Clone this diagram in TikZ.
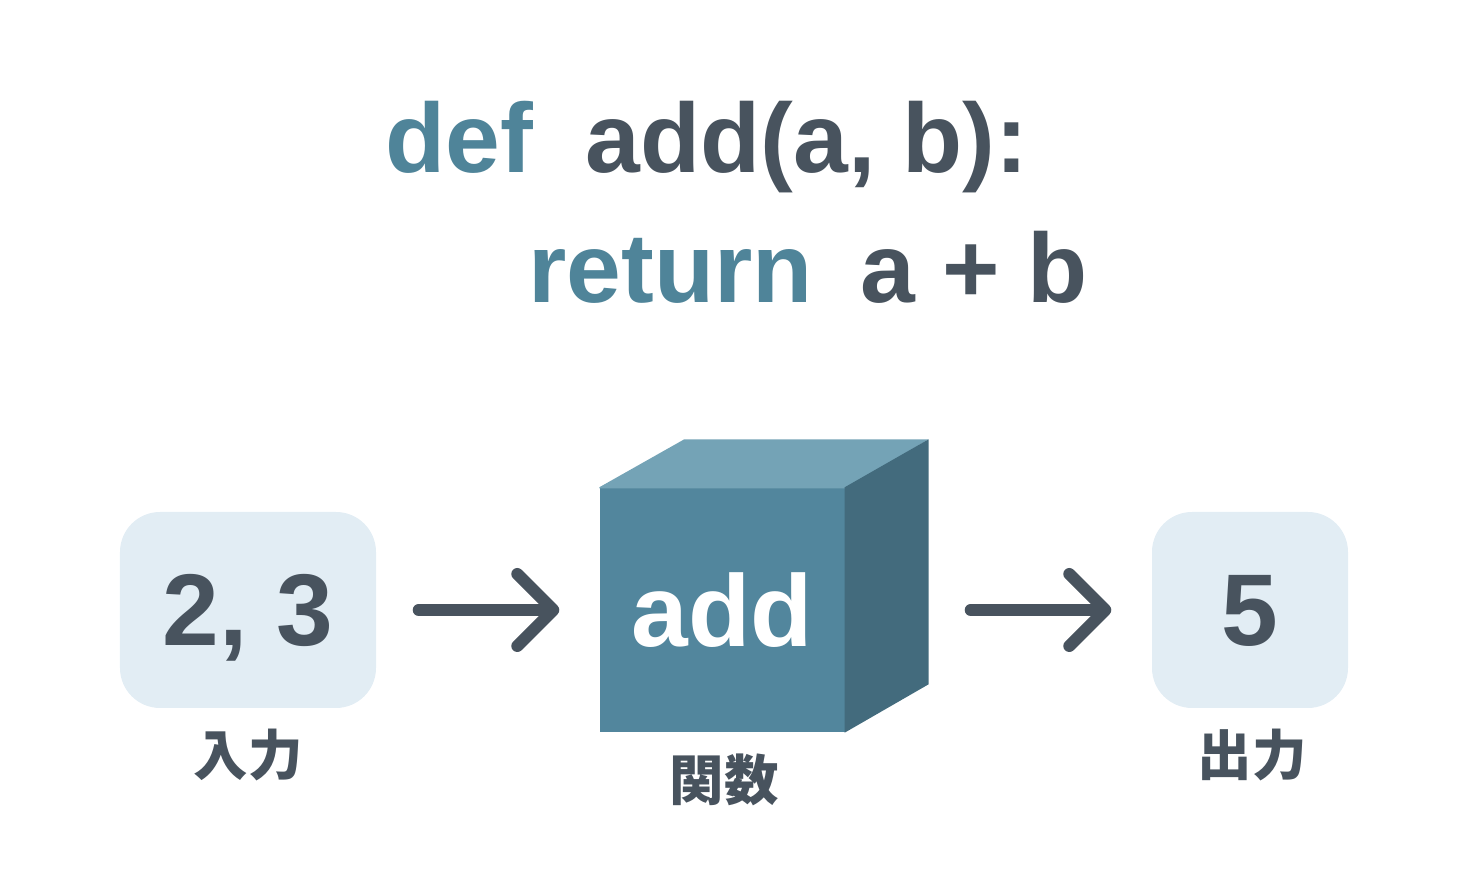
\documentclass[tikz,border=0pt]{standalone}
\usepackage{fontspec}
\setmainfont{Liberation Sans}
\newfontfamily\jpfont{Noto Sans CJK JP}
\usetikzlibrary{arrows.meta}
\usetikzlibrary{calc}

\definecolor{ink}{HTML}{48535E}
\definecolor{kw}{HTML}{4F8499}
\definecolor{valbg}{HTML}{E2EDF4}
\definecolor{cubefront}{HTML}{52869D}
\definecolor{cubetop}{HTML}{74A3B6}
\definecolor{cubeside}{HTML}{436B7D}

\tikzset{
  valbox/.style={fill=valbg, rounded corners=0.4cm, text=ink, text height=0.72cm, text depth=0cm,
    font=\bfseries\fontsize{29}{30}\selectfont},
  codetxt/.style={anchor=base west, inner sep=0pt, font=\bfseries\fontsize{28}{30}\selectfont},
  caption/.style={text=ink, font=\jpfont\bfseries\fontsize{15.5}{16}\selectfont},
  flow/.style={draw=ink, line width=0.12cm, line cap=round, line join=round,
    -{Straight Barb[length=0.36cm, width=0.72cm, round]}}
}

\begin{document}
\begin{tikzpicture}
		\useasboundingbox (0,0) rectangle (14.68,8.92);
		
		% code
		\node[codetxt, text=kw]  (kwdef) at (3.85,7.19) {def};
		\node[codetxt, text=ink] (sig)   at (5.85,7.19) {add(a, b):};
		\node[codetxt, text=kw]  (kwret) at (5.28,5.89) {return};
		\node[codetxt, text=ink] (body)  at (8.60,5.89) {a + b};
		
		% values
		\node[valbox, minimum width=2.56cm, minimum height=1.96cm] (in)  at (2.48,2.82) {2, 3};
		\node[valbox, minimum width=1.96cm, minimum height=1.96cm] (out) at (12.50,2.82) {5};
		
		% cube
		\node[fill=cubefront, minimum width=2.45cm, minimum height=2.44cm, inner sep=0pt,
		  text=white, text height=0.74cm, text depth=0cm,
		  font=\bfseries\fontsize{29}{30}\selectfont] (fn) at (7.225,2.82) {add};
		\fill[cubetop] (fn.north west) -- ++(0.85,0.48) -- ($(fn.north east)+(0.83,0.48)$) -- ([yshift=-0.3pt]fn.north east) -- ([yshift=-0.3pt]fn.north west) -- cycle;
		\fill[cubeside] ([xshift=-0.3pt]fn.north east) -- ++(0.84,0.48) -- ++(0,-2.45) -- ([xshift=-0.3pt]fn.south east) -- cycle;
		
		% arrows
		\draw[flow] ([xshift=0.42cm]in.east) -- ([xshift=-0.40cm]fn.west);
		\draw[flow] ([xshift=1.25cm]fn.east) -- ([xshift=-0.40cm]out.west);
		
		% captions
		\node[caption] (inlbl)  at (2.48,1.37)  {入力};
		\node[caption] (fnlbl)  at (7.24,1.12)  {関数};
		\node[caption] (outlbl) at (12.52,1.37) {出力};
		
\end{tikzpicture}
\end{document}
